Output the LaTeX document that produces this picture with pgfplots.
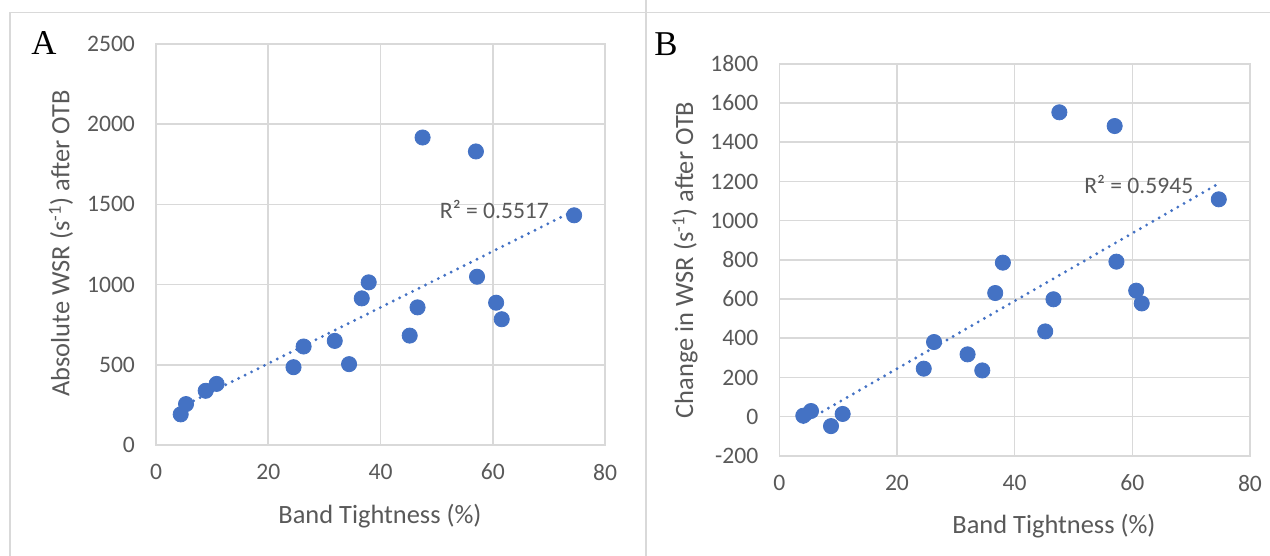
\documentclass[border=0pt]{standalone}
\usepackage{pgfplots}
\pgfplotsset{compat=1.18}
\usepackage{fontspec}
\setmainfont{Carlito}
\newfontfamily\seriffont{Liberation Serif}
\definecolor{xlblue}{HTML}{4472C4}
\definecolor{xlgrid}{HTML}{D9D9D9}
\definecolor{xltext}{HTML}{595959}
\definecolor{xlframe}{HTML}{D9D9D9}

\pgfplotsset{
  panel/.style={
    scale only axis,
    anchor=south west,
    xmin=0, xmax=80,
    xtick={0,20,...,80},
    grid=major,
    major grid style={draw=xlgrid, line width=0.8pt},
    axis line style={draw=xlgrid, line width=0.8pt},
    tick style={draw=none},
    ticklabel style={font=\fontsize{11.8}{12}\selectfont, text=xltext},
    /pgf/number format/assume math mode=true,
    /pgf/number format/1000 sep={},
    xticklabel style={yshift=-6pt},
    yticklabel style={xshift=-7pt},
  },
  pts/.style={only marks, mark=*, mark size=3.8pt,
    mark options={fill=xlblue, draw=xlblue}},
  trend/.style={xlblue, line width=1.6pt, line cap=round,
    dash pattern=on 0pt off 3.6pt},
}

\begin{document}
\begin{tikzpicture}
\begin{scope}[x=0.5pt, y=0.5pt]
\path[use as bounding box] (0,0) rectangle (1270,556);
% panel frames
\draw[xlframe, line width=0.75pt] (10,0) -- (10,543.3) -- (1270,543.3);
\draw[xlframe, line width=0.75pt] (646,0) -- (646,556);
\end{scope}

% ---- panel A ----
\begin{axis}[panel, at={(78pt,55.5pt)}, width=224.5pt, height=200.5pt,
  ymin=0, ymax=2500, ytick={0,500,...,2500}]
\addplot[pts] coordinates {
  (4.4,191) (5.35,255) (8.85,338) (10.8,381) (24.5,485) (26.3,614)
  (31.85,649) (34.4,504) (36.66,914) (37.9,1014) (45.2,682) (46.6,858)
  (47.5,1917) (57.0,1830) (57.2,1049) (60.6,887) (61.6,784) (74.5,1432)
};
\addplot[trend] coordinates {(4.4,235) (74.5,1461)};
\node[font=\fontsize{11.8}{12}\selectfont, text=xltext] at (axis cs:60.3,1466) {R² = 0.5517};
\end{axis}

% ---- panel B ----
\begin{axis}[panel, at={(389.65pt,50.05pt)}, width=235.35pt, height=196pt,
  ymin=-200, ymax=1800, ytick={-200,0,...,1800}]
\addplot[pts] coordinates {
  (4.08,5) (5.39,29) (8.79,-48) (10.77,14) (24.55,245) (26.3,381)
  (32.0,318) (34.5,236) (36.7,631) (38.0,786) (45.2,435) (46.6,599)
  (47.6,1553) (57.0,1483) (57.3,791) (60.66,643) (61.6,578) (74.7,1109)
};
\addplot[trend] coordinates {(4.1,-30) (74.7,1190)};
\node[font=\fontsize{11.8}{12}\selectfont, text=xltext] at (axis cs:61.1,1186) {R² = 0.5945};
\end{axis}

\begin{scope}[x=0.5pt, y=0.5pt]
\node[text=xltext, font=\fontsize{13.2}{14}\selectfont] at (380,40) {Band Tightness (\%)};
\node[text=xltext, font=\fontsize{13.2}{14}\selectfont, rotate=90] at (61,312.5)
  {Absolute WSR (s\textsuperscript{-1}) after OTB};
\node[font=\seriffont\fontsize{17.4}{18}\selectfont] at (44,513) {A};
\node[text=xltext, font=\fontsize{13.2}{14}\selectfont] at (1054,30) {Band Tightness (\%)};
\node[text=xltext, font=\fontsize{13.2}{14}\selectfont, rotate=90] at (685,296)
  {Change in WSR (s\textsuperscript{-1}) after OTB};
\node[font=\seriffont\fontsize{17.4}{18}\selectfont] at (666,512) {B};
\end{scope}
\end{tikzpicture}
\end{document}
